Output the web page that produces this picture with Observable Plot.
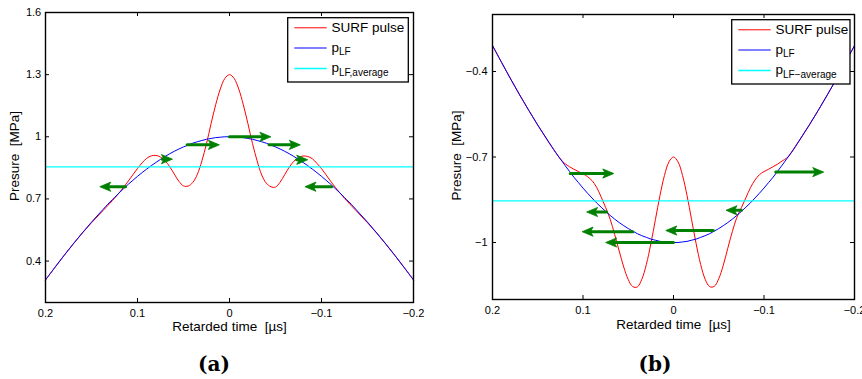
<!DOCTYPE html>
<html><head><meta charset="utf-8">
<script src="https://cdn.jsdelivr.net/npm/d3@7"></script>
<script src="https://cdn.jsdelivr.net/npm/@observablehq/plot@0.6"></script>
<style>
html,body{margin:0;padding:0;background:#fff;}
#fig{position:relative;width:862px;height:379px;overflow:hidden;background:#fff;}
.panel{position:absolute;top:0;}
</style></head>
<body><div id="fig"></div>
<script>
// ---------- data ----------
const time = [0.2,0.19,0.18,0.17,0.16,0.15,0.14,0.13,0.125,0.12,0.115,0.11,0.105,0.1,0.095,0.09,0.085,0.08,0.075,0.07,0.065,0.06,0.055,0.05,0.045,0.04,0.035,0.03,0.025,0.02,0.015,0.01,0.005,0,-0.005,-0.01,-0.015,-0.02,-0.025,-0.03,-0.035,-0.04,-0.045,-0.05,-0.055,-0.06,-0.065,-0.07,-0.075,-0.08,-0.085,-0.09,-0.095,-0.1,-0.105,-0.11,-0.115,-0.12,-0.125,-0.13,-0.14,-0.15,-0.16,-0.17,-0.18,-0.19,-0.2];

// panel (a)
const lfA = [0.309,0.368,0.426,0.482,0.536,0.588,0.637,0.685,0.707,0.729,0.750,0.771,0.790,0.809,0.827,0.844,0.861,0.876,0.891,0.905,0.918,0.930,0.941,0.951,0.960,0.969,0.976,0.982,0.988,0.992,0.996,0.998,1.000,1.000,1.000,0.998,0.996,0.992,0.988,0.982,0.976,0.969,0.960,0.951,0.941,0.930,0.918,0.905,0.891,0.876,0.861,0.844,0.827,0.809,0.790,0.771,0.750,0.729,0.707,0.685,0.637,0.588,0.536,0.482,0.426,0.368,0.309];
const surfA = [0.309,0.368,0.426,0.482,0.535,0.585,0.632,0.679,0.703,0.729,0.757,0.786,0.817,0.847,0.874,0.896,0.908,0.910,0.902,0.884,0.856,0.820,0.785,0.763,0.762,0.779,0.818,0.884,0.967,1.064,1.155,1.231,1.282,1.300,1.282,1.231,1.155,1.064,0.967,0.884,0.816,0.776,0.759,0.757,0.781,0.817,0.854,0.882,0.900,0.907,0.905,0.894,0.872,0.846,0.816,0.785,0.756,0.729,0.703,0.679,0.632,0.585,0.535,0.482,0.426,0.368,0.309];
const avgA = 0.855;
const arrowFromA = [0.073, 0.046, 0, -0.043, -0.073, 0.113, -0.111];
const arrowToA   = [0.062, 0.011, -0.045, -0.077, -0.085, 0.141, -0.082];
const arrowPA    = [0.892, 0.961, 1.0, 0.961, 0.889, 0.759, 0.759];
const yTicksA = [0.4, 0.7, 1, 1.3, 1.6];

// panel (b)
const lfB = [-0.309,-0.368,-0.426,-0.482,-0.536,-0.588,-0.637,-0.685,-0.707,-0.729,-0.750,-0.771,-0.790,-0.809,-0.827,-0.844,-0.861,-0.876,-0.891,-0.905,-0.918,-0.930,-0.941,-0.951,-0.960,-0.969,-0.976,-0.982,-0.988,-0.992,-0.996,-0.998,-1.000,-1.000,-1.000,-0.998,-0.996,-0.992,-0.988,-0.982,-0.976,-0.969,-0.960,-0.951,-0.941,-0.930,-0.918,-0.905,-0.891,-0.876,-0.861,-0.844,-0.827,-0.809,-0.790,-0.771,-0.750,-0.729,-0.707,-0.685,-0.637,-0.588,-0.536,-0.482,-0.426,-0.368,-0.309];
const surfB = [-0.309,-0.368,-0.426,-0.482,-0.536,-0.588,-0.638,-0.685,-0.707,-0.723,-0.734,-0.743,-0.751,-0.759,-0.769,-0.783,-0.806,-0.840,-0.877,-0.918,-0.972,-1.030,-1.086,-1.130,-1.155,-1.156,-1.129,-1.077,-1.004,-0.920,-0.836,-0.765,-0.717,-0.700,-0.717,-0.765,-0.836,-0.920,-1.004,-1.077,-1.129,-1.155,-1.154,-1.127,-1.080,-1.020,-0.962,-0.912,-0.878,-0.843,-0.808,-0.781,-0.762,-0.751,-0.743,-0.734,-0.725,-0.714,-0.704,-0.686,-0.638,-0.588,-0.536,-0.482,-0.426,-0.368,-0.309];
const avgB = -0.854;
const arrowFromB = [0.114, 0.074, 0.045, 0, -0.044, -0.075, -0.113];
const arrowToB   = [0.066, 0.096, 0.101, 0.075, 0.0085, -0.058, -0.166];
const arrowPB    = [-0.758, -0.893, -0.962, -1.0, -0.958, -0.887, -0.753];
const yTicksB = [-1, -0.7, -0.4];

const xTicks = [0.2, 0.1, 0, -0.1, -0.2];
const xDomain = [0.2, -0.2];
const xLabel = "Retarded time\u00a0 [µs]";
const yLabel = "Presure\u00a0 [MPa]";
const legendLabels = ["SURF pulse", "p", "p"];
const legendSubsA = ["", "LF", "LF,average"];
const legendSubsB = ["", "LF", "LF\u2212average"];

// ---------- drawing ----------
const FONT = '"Liberation Sans", Arial, Helvetica, sans-serif';
const RED = "#ff0000", BLUE = "#0000ff", CYAN = "#00ffff", GREEN = "#008000";
const fmt = d => String(d).replace("-", "\u2212");
const xDesc = xDomain[0] > xDomain[1];

function headSymbol(dir) {
  return {draw(ctx) {
    const L = 11, W = 4.6, N = 8.4;
    ctx.moveTo(0, 0);
    ctx.lineTo(-dir * L, -W);
    ctx.lineTo(-dir * N, 0);
    ctx.lineTo(-dir * L, W);
    ctx.closePath();
  }};
}

function panel(o) {
  const innerW = o.width - o.ml - o.mr, innerH = o.height - o.mt - o.mb;
  const rows = time.map((t, i) => ({t, lf: o.lf[i], surf: o.surf[i]}));
  const arrows = o.aFrom.map((x1, i) => ({x1, x2: o.aTo[i], y: o.aP[i]}));
  const rightward = d => (d.x2 > d.x1) !== xDesc;
  const xInner = xTicks.filter(d => d !== xDomain[0] && d !== xDomain[1]);
  const yInner = o.yTicks.filter(d => d !== o.yDomain[0] && d !== o.yDomain[1]);
  return Plot.plot({
    width: o.width, height: o.height,
    marginLeft: o.ml, marginRight: o.mr, marginTop: o.mt, marginBottom: o.mb,
    x: {domain: xDomain},
    y: {domain: o.yDomain},
    style: {fontFamily: FONT, fontSize: "11px", color: "black", background: "transparent", overflow: "visible"},
    marks: [
      Plot.line(rows, {x: "t", y: "surf", stroke: RED, strokeWidth: 1, curve: "catmull-rom"}),
      Plot.line(rows, {x: "t", y: "lf", stroke: BLUE, strokeWidth: 1, curve: "catmull-rom"}),
      Plot.ruleY([o.avg], {stroke: CYAN, strokeWidth: 1.3}),
      Plot.arrow(arrows, {x1: "x1", x2: "x2", y1: "y", y2: "y", stroke: GREEN, strokeWidth: 3, headLength: 0, insetEnd: 7}),
      Plot.dot(arrows.filter(rightward), {x: "x2", y: "y", symbol: headSymbol(1), r: 5, fill: GREEN, stroke: GREEN, strokeWidth: 0.8}),
      Plot.dot(arrows.filter(d => !rightward(d)), {x: "x2", y: "y", symbol: headSymbol(-1), r: 5, fill: GREEN, stroke: GREEN, strokeWidth: 0.8}),
      Plot.tickX(xInner, {x: d => d, insetTop: innerH - 4, stroke: "black"}),
      Plot.tickX(xInner, {x: d => d, insetBottom: innerH - 4, stroke: "black"}),
      Plot.tickY(yInner, {y: d => d, insetRight: innerW - 4, stroke: "black"}),
      Plot.tickY(yInner, {y: d => d, insetLeft: innerW - 4, stroke: "black"}),
      Plot.frame({stroke: "black", strokeWidth: 1.4}),
      Plot.axisX({ticks: xTicks, tickSize: 0, tickPadding: o.xPad, tickFormat: fmt, fontSize: 11, label: null}),
      Plot.axisY({ticks: o.yTicks, tickSize: 0, tickPadding: o.yPad, tickFormat: fmt, fontSize: 11, label: null}),
      Plot.text([xLabel], {text: d => d, frameAnchor: "bottom", dy: o.xLabDy, fontSize: 13.5, textAnchor: "middle", lineAnchor: "middle"}),
      Plot.text([yLabel], {text: d => d, frameAnchor: "left", dx: o.yLabDx, dy: -1.5, rotate: -90, fontSize: 13.5, textAnchor: "middle", lineAnchor: "middle"})
    ]
  });
}

function legend(left, top, w, h, subs) {
  const colors = [RED, BLUE, CYAN];
  const widths = [1, 1, 1.6];
  const rowsY = [10.8, 31, 51.5];
  let s = `<svg width="${w + 2}" height="${h + 2}" style="position:absolute;left:${left}px;top:${top}px" font-family='${FONT}'>`;
  s += `<rect x="0.7" y="0.7" width="${w}" height="${h}" fill="white" stroke="black" stroke-width="1.3"/>`;
  legendLabels.forEach((lab, i) => {
    const y = rowsY[i];
    s += `<line x1="7.3" x2="39.7" y1="${y}" y2="${y}" stroke="${colors[i]}" stroke-width="${widths[i]}"/>`;
    s += `<text x="44.5" y="${y + (i === 0 ? 4.6 : 3.8)}" font-size="13.5">${lab}` +
         (subs[i] ? `<tspan font-size="10" dy="3.4">${subs[i]}</tspan>` : "") + `</text>`;
  });
  s += `</svg>`;
  return s;
}

const fig = document.getElementById("fig");

const pa = panel({width: 430, height: 335, ml: 45, mr: 17, mt: 12, mb: 33,
  yDomain: [0.2, 1.6], yTicks: yTicksA, lf: lfA, surf: surfA, avg: avgA,
  aFrom: arrowFromA, aTo: arrowToA, aP: arrowPA, xPad: 6.5, yPad: 4.3, xLabDy: 24.5, yLabDx: -31});
pa.classList.add("panel"); pa.style.left = "0px";
fig.appendChild(pa);

const pb = panel({width: 432, height: 335, ml: 62, mr: 8, mt: 14, mb: 36,
  yDomain: [-1.2, -0.2], yTicks: yTicksB, lf: lfB, surf: surfB, avg: avgB,
  aFrom: arrowFromB, aTo: arrowToB, aP: arrowPB, xPad: 7, yPad: 5, xLabDy: 25.5, yLabDx: -36});
pb.classList.add("panel"); pb.style.left = "430px";
fig.appendChild(pb);

fig.insertAdjacentHTML("beforeend", legend(287, 17, 120.6, 64.3, legendSubsA));
fig.insertAdjacentHTML("beforeend", legend(730.5, 19, 118.3, 64.3, legendSubsB));

const caps = `<svg width="862" height="379" style="position:absolute;left:0;top:0;pointer-events:none" font-family='"DejaVu Serif", serif' font-weight="bold" font-size="20">
<text x="214" y="371" text-anchor="middle">(a)</text>
<text x="655" y="371" text-anchor="middle">(b)</text></svg>`;
fig.insertAdjacentHTML("beforeend", caps);
</script>
</body></html>
